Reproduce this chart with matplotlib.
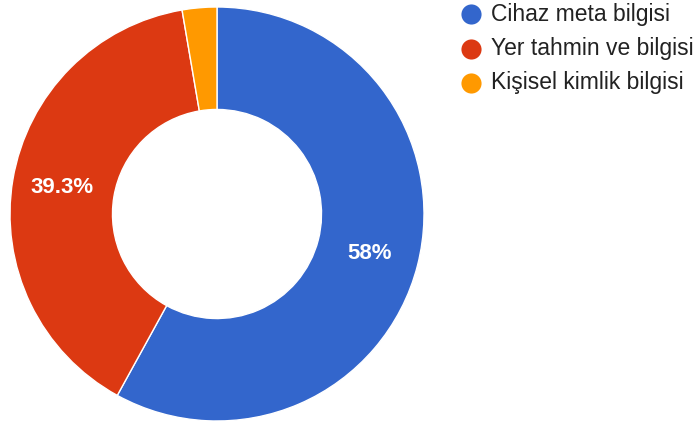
import matplotlib.pyplot as plt
from matplotlib.lines import Line2D

# share of each kind of data
labels = ['Cihaz meta bilgisi', 'Yer tahmin ve bilgisi', 'Kişisel kimlik bilgisi']
values = [58.0, 39.3, 2.7]
colors = ['#3366cc', '#dc3912', '#ff9900']

plt.rcParams['font.family'] = ['Liberation Sans', 'DejaVu Sans']

W, H = 697, 426
fig = plt.figure(figsize=(W / 100, H / 100), dpi=100)
ax = fig.add_axes([10 / W, 5 / H, 414 / W, 414 / H])


def pct_label(p):
    # small slices get no label
    if p < 5:
        return ''
    return '{:g}%'.format(round(p, 1))


wedges, texts, autotexts = ax.pie(
    values, colors=colors, startangle=90, counterclock=False,
    autopct=pct_label, pctdistance=0.76,
    wedgeprops=dict(width=0.495, edgecolor='white', linewidth=1),
    textprops=dict(color='white', fontsize=16, fontweight='bold'))
ax.set_xlim(-1, 1)
ax.set_ylim(-1, 1)
ax.set_aspect('equal')
ax.axis('off')

# legend drawn by hand: dot + label per row
row_y = [14, 49, 83]
for lab, c, y in zip(labels, colors, row_y):
    fig.add_artist(Line2D([471 / W], [1 - y / H], transform=fig.transFigure,
                          marker='o', markersize=14.5, linestyle='',
                          color=c, markeredgewidth=0))
    fig.text(491 / W, 1 - y / H, lab, fontsize=16.5, color='#222222',
             ha='left', va='center')

fig.savefig('out.png', dpi=100)
